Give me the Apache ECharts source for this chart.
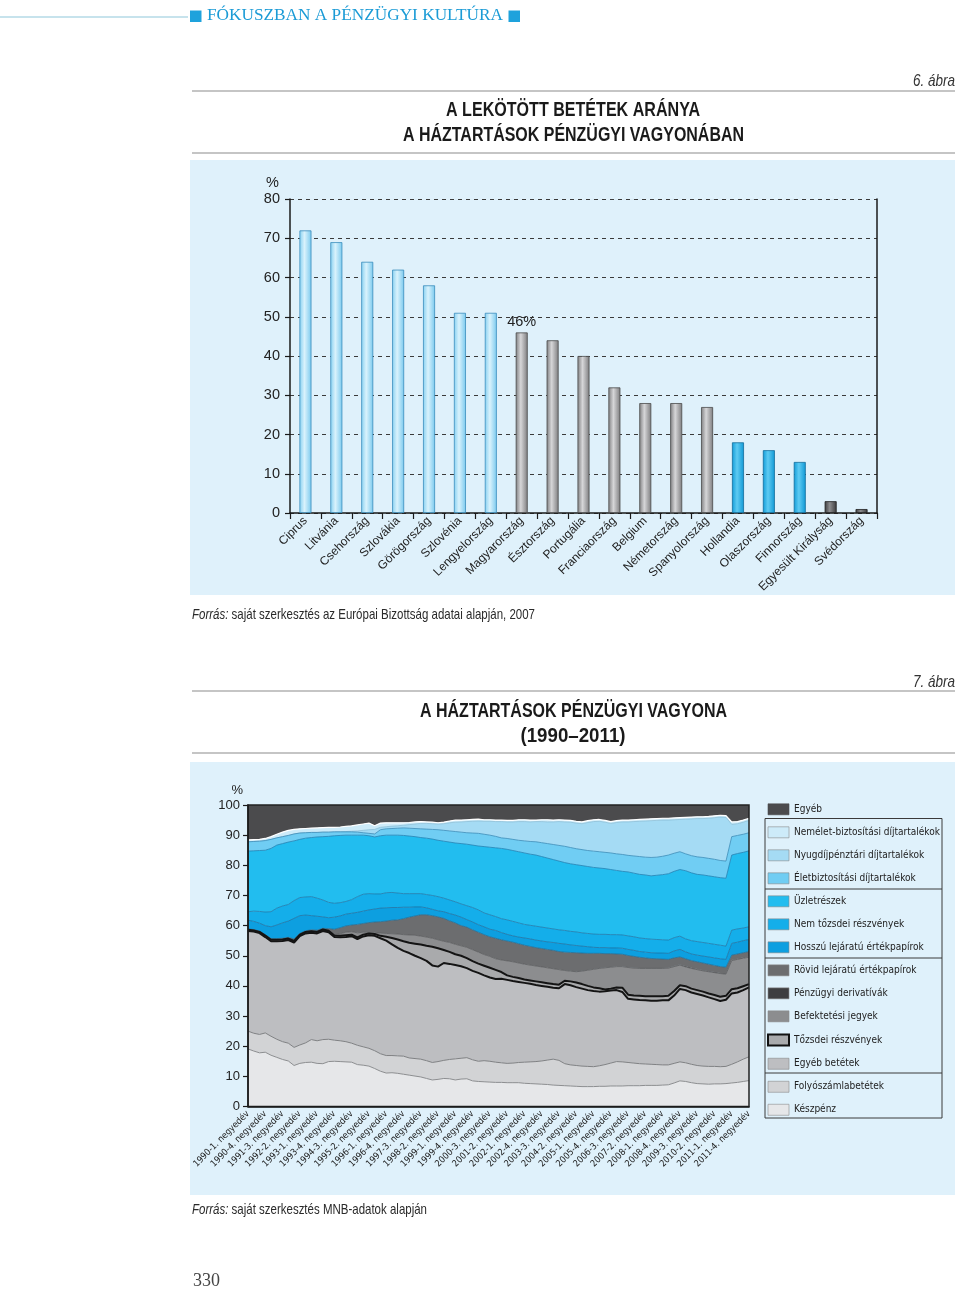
<!DOCTYPE html>
<html><head><meta charset="utf-8">
<script src="https://cdn.jsdelivr.net/npm/echarts@6/dist/echarts.min.js"></script>
<style>html,body{margin:0;padding:0;background:#fff}#c{width:960px;height:1289px}</style>
</head><body><div id="c"></div><script>
// ===================== DATA =====================
// Chart 1 (6. ábra)
const countries = ['Ciprus','Litvánia','Csehország','Szlovákia','Görögország','Szlovénia','Lengyelország','Magyarország','Észtország','Portugália','Franciaország','Belgium','Németország','Spanyolország','Hollandia','Olaszország','Finnország','Egyesült Királyság','Svédország'];
const depositShare = [72,69,64,62,58,51,51,46,44,40,32,28,28,27,18,16,13,3,1];
const highlightCountry = 'Magyarország';
const yTicks1 = {min:0, max:80, step:10};

// Chart 2 (7. ábra) – cumulative upper boundaries (%) of each layer, 1990-1 ... 2011-4
const TOTAL = 100;
const yTicks2 = {min:0, max:100, step:10};
const keszpenzTop = [
19.1,18.4,17.8,18.0, 17.0,16.3,15.6,15.1, 13.6,14.3,14.6,14.7, 14.3,14.2,14.9,15.0,
14.9,14.8,14.7,13.9, 13.7,13.4,12.6,11.7, 11.1,11.2,11.0,10.7, 10.4,10.1,9.8,9.3,
8.8,9.0,9.3,9.2, 8.8,9.1,9.2,8.5, 8.3,8.2,8.1,8.0, 8.0,7.9,7.9,7.9,
7.7,7.6,7.5,7.4, 7.3,7.1,7.0,6.9, 6.8,6.7,6.6,6.6, 6.6,6.7,6.7,6.8,
6.8,6.8,6.9,6.9, 6.9,7.0,7.0,7.0, 7.1,7.2,7.8,8.5, 8.3,7.9,7.6,7.5,
7.4,7.5,7.5,7.6, 7.8,8.0,8.3,8.6];
const folyoszamlaTop = [
25.0,24.3,23.9,24.4, 23.3,22.3,21.5,21.0, 19.6,20.4,21.1,22.2, 21.8,22.2,22.3,22.0,
21.8,21.5,21.0,20.3, 19.8,19.3,18.5,17.5, 16.9,16.9,16.8,16.7, 16.1,15.9,15.7,15.2,
14.6,14.9,15.3,15.6, 15.8,16.0,16.2,15.5, 15.0,15.2,15.0,14.7, 14.5,14.3,14.4,14.6,
14.7,14.8,14.9,15.1, 15.4,15.7,15.3,14.2, 13.8,13.6,13.4,13.3, 13.2,13.5,13.9,14.4,
14.9,14.8,14.6,14.4, 14.2,14.1,14.0,13.9, 13.8,13.8,14.3,14.8, 14.5,14.0,13.6,13.4,
13.3,13.3,13.2,13.3, 14.0,14.8,15.7,16.5];
const egyebBetetTop = [
58.2,58.0,57.5,56.2, 54.8,54.8,54.9,55.2, 54.4,56.5,57.4,57.6, 57.4,58.2,57.8,56.2,
56.1,56.2,56.5,55.5, 56.4,56.8,56.6,55.8, 55.0,53.8,52.6,51.6, 50.9,50.0,49.2,48.3,
46.8,46.4,47.6,47.3, 46.9,46.5,45.9,45.0, 44.3,43.5,42.8,42.3, 42.4,42.0,41.6,41.3,
41.0,40.7,40.3,40.0, 39.7,39.4,39.2,40.6, 40.2,39.6,39.1,38.6, 38.3,38.1,38.2,38.5,
38.6,38.0,35.7,35.5, 35.3,35.2,35.1,35.1, 35.2,35.2,36.8,39.0, 38.6,37.8,37.3,36.8,
36.2,35.6,35.0,35.4, 37.5,37.8,38.6,39.5];
const tozsdeiTop = [
58.6,58.4,57.9,56.7, 55.3,55.3,55.4,55.7, 54.9,57.0,57.9,58.1, 57.9,58.7,58.3,56.7,
56.6,56.8,57.0,56.1, 57.0,57.4,57.2,56.6, 56.3,55.9,55.4,54.8, 54.3,54.0,53.7,53.3,
53.0,52.5,51.9,51.3, 50.5,50.0,49.2,48.2, 47.4,46.7,46.0,45.3, 44.6,43.5,43.0,42.6,
42.1,41.8,41.5,41.2, 40.9,40.6,40.4,41.7, 41.5,41.1,40.6,40.0, 39.5,39.2,38.8,39.1,
39.5,39.4,37.1,36.8, 36.7,36.6,36.6,36.6, 36.6,36.7,38.3,40.2, 39.9,39.1,38.6,38.1,
37.5,37.0,36.4,36.7, 38.9,39.2,39.9,40.6];
const befektetesiTop = [
58.7,58.5,58.0,56.8, 55.4,55.4,55.5,55.8, 55.0,57.1,58.0,58.2, 58.0,58.8,58.5,57.0,
57.3,57.8,58.0,57.6, 57.8,57.7,57.6,57.5, 57.4,57.3,57.2,57.0, 56.9,56.8,56.5,56.2,
55.8,55.3,54.8,54.4, 53.8,53.3,52.8,52.0, 51.2,50.4,49.8,49.0, 48.6,48.3,48.0,47.6,
47.2,46.9,46.6,46.3, 46.0,45.7,45.4,45.1, 44.9,44.7,44.9,45.2, 45.5,45.8,46.0,46.2,
46.4,46.4,46.1,45.9, 45.8,45.8,45.8,45.8, 45.8,45.9,46.4,46.9, 46.3,45.8,45.4,45.0,
44.7,44.4,44.1,43.9, 48.4,48.8,49.2,49.5];
const derivativTop = [
58.7,58.5,58.0,56.8, 55.4,55.4,55.5,55.8, 55.0,57.1,58.0,58.2, 58.0,58.8,58.5,57.0,
57.3,57.8,58.0,57.6, 57.8,57.7,57.6,57.5, 57.4,57.3,57.2,57.0, 56.9,56.8,56.5,56.2,
55.8,55.3,54.8,54.4, 53.8,53.3,52.8,52.0, 51.2,50.4,49.8,49.0, 48.6,48.3,48.0,47.6,
47.2,46.9,46.6,46.3, 46.0,45.7,45.4,45.1, 45.0,44.8,45.0,45.3, 45.6,45.9,46.1,46.3,
46.5,46.5,46.2,46.0, 45.9,45.9,45.9,45.9, 45.9,46.0,46.6,47.1, 46.5,46.0,45.6,45.2,
44.9,44.6,44.3,44.1, 48.6,49.0,49.4,49.7];
const rovidTop = [
58.9,58.7,58.2,57.0, 55.7,55.7,55.8,56.1, 55.6,57.4,58.3,58.6, 58.5,59.1,59.0,58.8,
59.3,59.9,60.2,60.4, 60.7,61.0,61.2,61.3, 61.5,61.8,61.9,62.3, 62.8,63.2,63.6,63.6,
63.3,62.9,62.4,61.6, 60.9,60.0,59.5,58.6, 57.8,57.0,56.3,55.8, 55.3,54.9,54.5,54.0,
53.5,53.1,52.7,52.4, 52.1,51.8,51.4,51.2, 51.1,51.0,50.9,50.8, 50.8,50.8,50.7,50.7,
50.6,50.5,50.1,49.8, 49.5,49.3,49.1,49.0, 48.9,48.8,49.3,49.6, 49.0,48.4,48.0,47.6,
47.2,46.8,46.4,46.2, 50.2,50.6,51.0,51.4];
const hosszuTop = [
61.8,61.4,60.8,60.0, 59.6,60.2,60.9,61.5, 62.4,63.3,63.5,63.3, 63.1,62.9,62.6,62.8,
63.2,63.8,64.1,64.4, 64.8,65.2,65.5,65.8, 65.9,66.0,66.0,66.1, 66.1,66.2,66.2,65.9,
65.4,64.9,64.6,64.0, 63.5,62.8,62.0,61.2, 60.3,59.6,58.8,58.4, 57.7,57.1,56.6,56.2,
55.9,55.6,55.2,54.9, 54.6,54.4,54.1,53.9, 53.6,53.4,53.2,53.0, 52.8,52.7,52.7,52.6,
52.6,52.5,52.1,51.8, 51.4,51.2,51.0,50.9, 50.9,50.8,51.6,52.1, 51.3,50.6,50.2,49.9,
49.6,49.3,49.0,48.8, 54.1,54.5,55.0,55.4];
const nemTozsdeiTop = [
64.6,64.8,64.7,64.5, 64.6,65.8,66.5,67.0, 68.3,69.3,69.5,69.6, 69.1,68.5,67.7,67.4,
67.6,68.0,68.6,69.6, 70.4,70.6,70.5,70.5, 70.9,71.0,70.8,70.6, 70.6,70.6,70.6,70.3,
70.0,69.6,69.1,68.5, 67.9,67.2,66.6,66.0, 65.2,64.2,63.6,63.0, 62.3,61.9,61.4,60.9,
60.4,60.1,59.8,59.5, 59.2,58.9,58.6,58.4, 58.1,57.9,57.6,57.4, 57.2,57.1,57.1,57.0,
57.0,56.9,56.6,56.3, 55.9,55.7,55.5,55.4, 55.3,55.2,56.0,56.5, 55.6,55.0,54.7,54.4,
54.1,53.8,53.5,53.2, 58.5,58.9,59.2,59.6];
const uzletreszTop = [
84.7,84.8,84.9,85.0, 85.6,86.7,87.2,87.7, 88.1,88.6,89.0,89.2, 89.4,89.5,89.6,89.8,
89.9,90.0,90.0,90.0, 90.0,89.8,89.4,89.8, 90.0,90.0,90.0,89.9, 89.7,89.5,89.2,89.0,
88.7,88.3,88.0,87.7, 87.4,87.2,87.0,86.7, 86.4,86.2,86.0,85.8, 85.6,85.3,84.9,84.5,
84.1,83.7,83.4,82.9, 82.4,81.9,81.4,80.9, 80.5,80.2,79.9,79.6, 79.3,79.1,78.9,78.6,
78.3,78.0,77.8,77.4, 77.0,76.8,76.5,76.7, 76.9,77.2,78.0,78.6, 78.2,77.5,77.0,76.8,
76.5,76.2,75.9,75.7, 83.4,83.9,84.3,84.8];
const eletbiztTop = [
87.8,87.9,88.0,88.2, 88.6,89.1,89.5,89.9, 90.4,90.7,90.8,90.9, 90.9,91.0,91.0,91.1,
91.1,91.1,91.1,91.0, 90.8,90.6,90.4,91.8, 92.1,92.2,92.3,92.4, 92.3,92.2,92.1,92.0,
91.9,91.8,91.6,91.4, 91.2,91.0,90.8,90.7, 90.6,90.3,90.0,89.6, 89.1,88.9,88.6,88.3,
88.1,87.9,87.8,87.5, 87.2,86.9,86.6,86.3, 85.9,85.5,85.2,84.9, 84.7,84.5,84.3,84.1,
83.8,83.6,83.3,83.1, 82.9,82.7,82.6,82.7, 83.0,83.4,84.0,84.5, 83.8,83.2,82.8,82.6,
82.3,82.0,81.6,81.4, 89.5,89.9,90.3,90.8];
const nyugdijTop = [
87.8,87.9,88.0,88.2, 88.6,89.1,89.5,89.9, 90.4,90.7,90.8,90.9, 90.9,91.0,91.0,91.1,
91.1,91.2,91.3,91.4, 91.6,91.8,91.9,92.6, 92.8,93.0,93.1,93.3, 93.5,93.7,93.9,93.9,
93.8,93.7,93.8,94.1, 94.3,94.4,94.5,94.6, 94.7,94.6,94.6,94.5, 94.5,94.4,94.4,94.5,
94.5,94.4,94.5,94.5, 94.4,94.4,94.5,94.4, 94.3,94.0,93.8,94.2, 94.5,94.6,94.3,93.9,
94.2,94.4,94.4,94.5, 94.6,94.7,94.8,94.9, 95.0,95.0,95.1,95.2, 95.3,95.4,95.5,95.5,
95.6,95.8,96.0,95.9, 93.6,93.8,94.3,94.9];
const nemeletTop = [
88.4,88.5,88.6,88.9, 89.5,90.3,91.0,91.6, 91.9,92.1,92.2,92.3, 92.4,92.5,92.6,92.6,
92.7,92.9,93.1,93.4, 93.7,94.0,93.1,94.0, 94.1,94.1,94.1,94.1, 94.2,94.4,94.5,94.4,
94.3,94.1,94.3,94.7, 95.0,95.0,95.1,95.2, 95.3,95.1,95.1,95.0, 95.0,94.9,94.9,95.1,
95.1,95.0,95.0,95.1, 95.1,95.0,95.1,95.0, 94.9,94.6,94.4,94.8, 95.1,95.2,94.9,94.5,
94.8,95.0,95.0,95.1, 95.2,95.3,95.4,95.5, 95.6,95.6,95.7,95.8, 95.9,96.0,96.1,96.1,
96.2,96.4,96.6,96.5, 94.4,94.5,95.0,95.6];

const quarterLabels = [];
for (let y = 1990; y <= 2011; y++) for (let q = 1; q <= 4; q++) quarterLabels.push(y + '-' + q + '. negyedév');

// ===================== STYLE / BUILD =====================
const layerTops = [keszpenzTop, folyoszamlaTop, egyebBetetTop, tozsdeiTop, befektetesiTop, derivativTop,
  rovidTop, hosszuTop, nemTozsdeiTop, uzletreszTop, eletbiztTop, nyugdijTop, nemeletTop];
layerTops.forEach((a, i) => { if (a.length !== quarterLabels.length) throw new Error('layer ' + i + ' length ' + a.length); });

// bottom -> top
const layers = [
  {name:'Készpénz', fill:'#e6e7e9', line:'#8d8e90', lw:1},
  {name:'Folyószámlabetétek', fill:'#d2d3d5', line:'#808183', lw:1},
  {name:'Egyéb betétek', fill:'#bdbec1', line:'#141414', lw:2},
  {name:'Tőzsdei részvények', fill:'#a9aaac', line:'#141414', lw:2, border:'#111', bw:2},
  {name:'Befektetési jegyek', fill:'#8c8d8f', line:'#5a5a5c', lw:0.8},
  {name:'Pénzügyi derivatívák', fill:'#3e3e40', line:'#3e3e40', lw:0},
  {name:'Rövid lejáratú értékpapírok', fill:'#6c6d6f', line:'#1d6e99', lw:0.8},
  {name:'Hosszú lejáratú értékpapírok', fill:'#0d9fe0', line:'#1c71a2', lw:0.8},
  {name:'Nem tőzsdei részvények', fill:'#14aeea', line:'#1d78aa', lw:0.8},
  {name:'Üzletrészek', fill:'#22bdef', line:'#2180b2', lw:0.8},
  {name:'Életbiztosítási díjtartalékok', fill:'#70cdf3', line:'#3b8cb8', lw:0.8},
  {name:'Nyugdíjpénztári díjtartalékok', fill:'#a5dbf4', line:'#7fb3cc', lw:0.6},
  {name:'Nemélet-biztosítási díjtartalékok', fill:'#cdebf9', line:'#ffffff', lw:1.2},
  {name:'Egyéb', fill:'#4b4b4d', line:'#4b4b4d', lw:0}
];
function layerShare(k) {
  return quarterLabels.map((_, i) => {
    const top = k < layerTops.length ? layerTops[k][i] : TOTAL;
    const base = k === 0 ? 0 : layerTops[k - 1][i];
    return Math.round(Math.max(0, top - base) * 100) / 100;
  });
}

// font helpers
const mctx = document.createElement('canvas').getContext('2d');
function measure(t, font) { mctx.font = font; return mctx.measureText(t).width; }
function hasFont(f) {
  const s = 'abcdefghijklmnopqrstuvwxyzWMi0123';
  mctx.font = '40px monospace'; const a = mctx.measureText(s).width;
  mctx.font = "40px '" + f + "', monospace"; const b = mctx.measureText(s).width;
  return Math.abs(a - b) > 0.5;
}
const SANS = "'Liberation Sans', Arial, sans-serif";
const NARROW = hasFont('Liberation Sans Narrow') ? "'Liberation Sans Narrow'" :
               (hasFont('DejaVu Sans Condensed') ? "'DejaVu Sans Condensed'" : SANS);
// fit font sizes to the widths seen in the reference
const longestLegend = 'Nemélet-biztosítási díjtartalékok';
const legendFontSize = Math.min(12.5, 12 * 146 / measure(longestLegend, '12px ' + NARROW));
const qLabelFontSize = Math.min(11, 10 * 75 / measure(quarterLabels[0], '10px ' + NARROW));
const legendItemH = Math.max(11, legendFontSize * 1.167);

function fitText(t, font, left, cy, targetW, fill) {
  const w = measure(t, font);
  const s = targetW ? targetW / w : 1;
  return {type:'text', x:left, y:cy, scaleX:s, scaleY:1, silent:true, z:10,
    style:{text:t, font:font, fill:fill, x:0, y:0, textAlign:'left', align:'left',
           textVerticalAlign:'middle', verticalAlign:'middle'}};
}
function centered(t, font, cx, cy, targetW, fill) { return fitText(t, font, cx - targetW / 2, cy, targetW, fill); }
function sourceLine(rest, left, cy, totalW) {
  const f1 = "italic 14.5px 'Liberation Sans'", f2 = "14.5px 'Liberation Sans'";
  const w1 = measure('Forrás:', f1), w2 = measure(rest, f2);
  const s = totalW / (w1 + w2);
  return [fitText('Forrás:', f1, left, cy, w1 * s, '#2a2a2a'), fitText(rest, f2, left + w1 * s, cy, w2 * s, '#2a2a2a')];
}
function hline(y, x1, x2, color, w) {
  return {type:'line', silent:true, z:5, shape:{x1:x1, y1:y, x2:x2, y2:y}, style:{stroke:color, lineWidth:w}};
}

// bar styles
const grad = (a, b, c, border) => ({
  color: new echarts.graphic.LinearGradient(0, 0, 1, 0, [{offset:0, color:a}, {offset:0.42, color:b}, {offset:1, color:c}]),
  borderColor: border, borderWidth: 0.8
});
const barStyles = [
  grad('#86d0f1', '#d9f2fc', '#79c9ee', '#3a8dbd'),
  grad('#7e7e80', '#d6d6d8', '#7c7c7e', '#4a4a4a'),
  grad('#0f9bd8', '#5fcbf2', '#0f98d5', '#116d9c'),
  grad('#3a3a3c', '#8c8c8e', '#3a3a3c', '#1e1e1e')
];
const barStyleIndex = [0,0,0,0,0,0,0,1,1,1,1,1,1,1,2,2,2,3,3];
const barData = depositShare.map((v, i) => {
  const d = {value: v, itemStyle: barStyles[barStyleIndex[i]]};
  if (countries[i] === highlightCountry) d.label = {show:true, position:'top', distance:3, formatter: v + '%',
    fontFamily: SANS, fontSize: 14.5, color:'#222'};
  return d;
});

const chart = echarts.init(document.getElementById('c'), null, {renderer:'canvas', width:960, height:1289});

const TITLE_FONT = "bold 20px 'Liberation Sans'";
const graphics = [
  {type:'rect', silent:true, z:-10, shape:{x:190, y:160, width:765, height:435}, style:{fill:'#dff1fb'}},
  {type:'rect', silent:true, z:-10, shape:{x:190, y:762, width:765, height:433}, style:{fill:'#dff1fb'}},
  hline(17, 0, 188, '#8fc7da', 1),
  {type:'rect', silent:true, z:5, shape:{x:190, y:10.5, width:11.5, height:11.5}, style:{fill:'#1ea2dc'}},
  {type:'rect', silent:true, z:5, shape:{x:508.5, y:10.5, width:11.5, height:11.5}, style:{fill:'#1ea2dc'}},
  fitText('FÓKUSZBAN A PÉNZÜGYI KULTÚRA', "16.5px 'Liberation Serif'", 207, 16, 296, '#1b9bd6'),
  // chart 1 header
  fitText('6. ábra', "italic 17px 'Liberation Sans'", 913, 81, 42, '#333'),
  hline(91, 192, 955, '#b2b2b2', 1.5),
  centered('A LEKÖTÖTT BETÉTEK ARÁNYA', TITLE_FONT, 573, 110, 254, '#1a1a1a'),
  centered('A HÁZTARTÁSOK PÉNZÜGYI VAGYONÁBAN', TITLE_FONT, 573.5, 135, 341, '#1a1a1a'),
  hline(153, 192, 955, '#b2b2b2', 1.5),
  ...sourceLine(' saját szerkesztés az Európai Bizottság adatai alapján, 2007', 192, 615, 343),
  // chart 2 header
  fitText('7. ábra', "italic 17px 'Liberation Sans'", 913, 682, 42, '#333'),
  hline(691, 192, 955, '#b2b2b2', 1.5),
  centered('A HÁZTARTÁSOK PÉNZÜGYI VAGYONA', TITLE_FONT, 573.5, 711, 307, '#1a1a1a'),
  centered('(1990–2011)', TITLE_FONT, 573, 736, 105, '#1a1a1a'),
  hline(753, 192, 955, '#b2b2b2', 1.5),
  ...sourceLine(' saját szerkesztés MNB-adatok alapján', 192, 1210, 235),
  fitText('330', "18px 'Liberation Serif'", 193, 1281, 27, '#444'),
  // legend group frames
  {type:'rect', silent:true, z:5, shape:{x:765, y:818.5, width:177, height:299.5}, style:{fill:'none', stroke:'#3a3a3a', lineWidth:1}},
  hline(889, 765, 942, '#3a3a3a', 1),
  hline(958, 765, 942, '#3a3a3a', 1),
  hline(1073, 765, 942, '#3a3a3a', 1)
];

const legendOrder = layers.slice().reverse();

const option = {
  animation: false,
  backgroundColor: '#ffffff',
  grid: [
    {left:290, top:199, right:83, bottom:776, containLabel:false, outerBoundsMode:'none'},
    {left:248, top:805, right:211, bottom:182.5, containLabel:false, outerBoundsMode:'none',
     show:true, borderColor:'#222', borderWidth:1.5, backgroundColor:'transparent', z:50}
  ],
  xAxis: [
    {type:'category', gridIndex:0, data:countries, boundaryGap:true,
     axisLine:{show:true, lineStyle:{color:'#1a1a1a', width:1.5}},
     axisTick:{show:true, length:6, lineStyle:{color:'#1a1a1a', width:1.2}},
     axisLabel:{rotate:45, interval:0, margin:6, fontFamily:SANS, fontSize:12, color:'#222'},
     splitLine:{show:false}},
    {type:'category', gridIndex:1, data:quarterLabels, boundaryGap:false, z:60,
     axisLine:{show:true, lineStyle:{color:'#1a1a1a', width:1.5}},
     axisTick:{show:false},
     axisLabel:{rotate:45, interval:2, margin:6, color:'#222', fontFamily:NARROW, fontSize:qLabelFontSize},
     splitLine:{show:false}}
  ],
  yAxis: [
    {type:'value', gridIndex:0, min:yTicks1.min, max:yTicks1.max, interval:yTicks1.step,
     name:'%', nameLocation:'end', nameGap:9,
     nameTextStyle:{fontFamily:SANS, fontSize:14.5, color:'#222', align:'right', padding:[0, 11, 0, 0]},
     axisLine:{show:true, lineStyle:{color:'#1a1a1a', width:1.5}},
     axisTick:{show:true, length:5, lineStyle:{color:'#1a1a1a', width:1.2}},
     axisLabel:{margin:10, fontFamily:SANS, fontSize:14.5, color:'#222'},
     splitLine:{show:true, lineStyle:{color:'#3a3a3a', width:1, type:[4, 4]}}},
    {type:'value', gridIndex:0, position:'right', min:yTicks1.min, max:yTicks1.max, interval:yTicks1.step,
     axisLine:{show:true, lineStyle:{color:'#1a1a1a', width:1.5}},
     axisTick:{show:false}, axisLabel:{show:false}, splitLine:{show:false}},
    {type:'value', gridIndex:1, min:yTicks2.min, max:yTicks2.max, interval:yTicks2.step, z:60,
     name:'%', nameLocation:'end', nameGap:8,
     nameTextStyle:{fontFamily:SANS, fontSize:13, color:'#222', align:'right', padding:[0, 5, 0, 0]},
     axisLine:{show:true, lineStyle:{color:'#1a1a1a', width:1.5}},
     axisTick:{show:true, length:5, lineStyle:{color:'#1a1a1a', width:1.2}},
     axisLabel:{margin:8, fontFamily:SANS, fontSize:13, color:'#222'},
     splitLine:{show:false}}
  ],
  legend: {
    orient:'vertical', left:767, top:803.5, padding:0, itemWidth:21, itemHeight:11,
    itemGap: 23.1 - legendItemH, itemTextGap:6,
    selectedMode:false,
    textStyle:{color:'#222', fontFamily:NARROW, fontSize:legendFontSize},
    data: legendOrder.map(l => ({name:l.name, icon:'rect',
      itemStyle:{color:l.fill, borderColor:l.border || (l.name === 'Egyéb' ? l.fill : '#8a8a8a'), borderWidth:l.bw || 0.6}}))
  },
  graphic: graphics,
  series: [
    {type:'bar', name:'Lekötött betétek aránya', xAxisIndex:0, yAxisIndex:0, barWidth:12, data:barData, z:3, silent:true},
    ...layers.map((l, k) => ({
      type:'line', name:l.name, xAxisIndex:1, yAxisIndex:2, stack:'vagyon', data:layerShare(k),
      symbol:'none', showSymbol:false, smooth:false, silent:true, z: 3 + (layers.length - k),
      lineStyle:{color:l.line, width:l.lw || 0.01, opacity:l.lw ? 1 : 0},
      areaStyle:{color:l.fill, opacity:1},
      itemStyle:{color:l.fill}
    }))
  ]
};
chart.setOption(option);
</script></body></html>
